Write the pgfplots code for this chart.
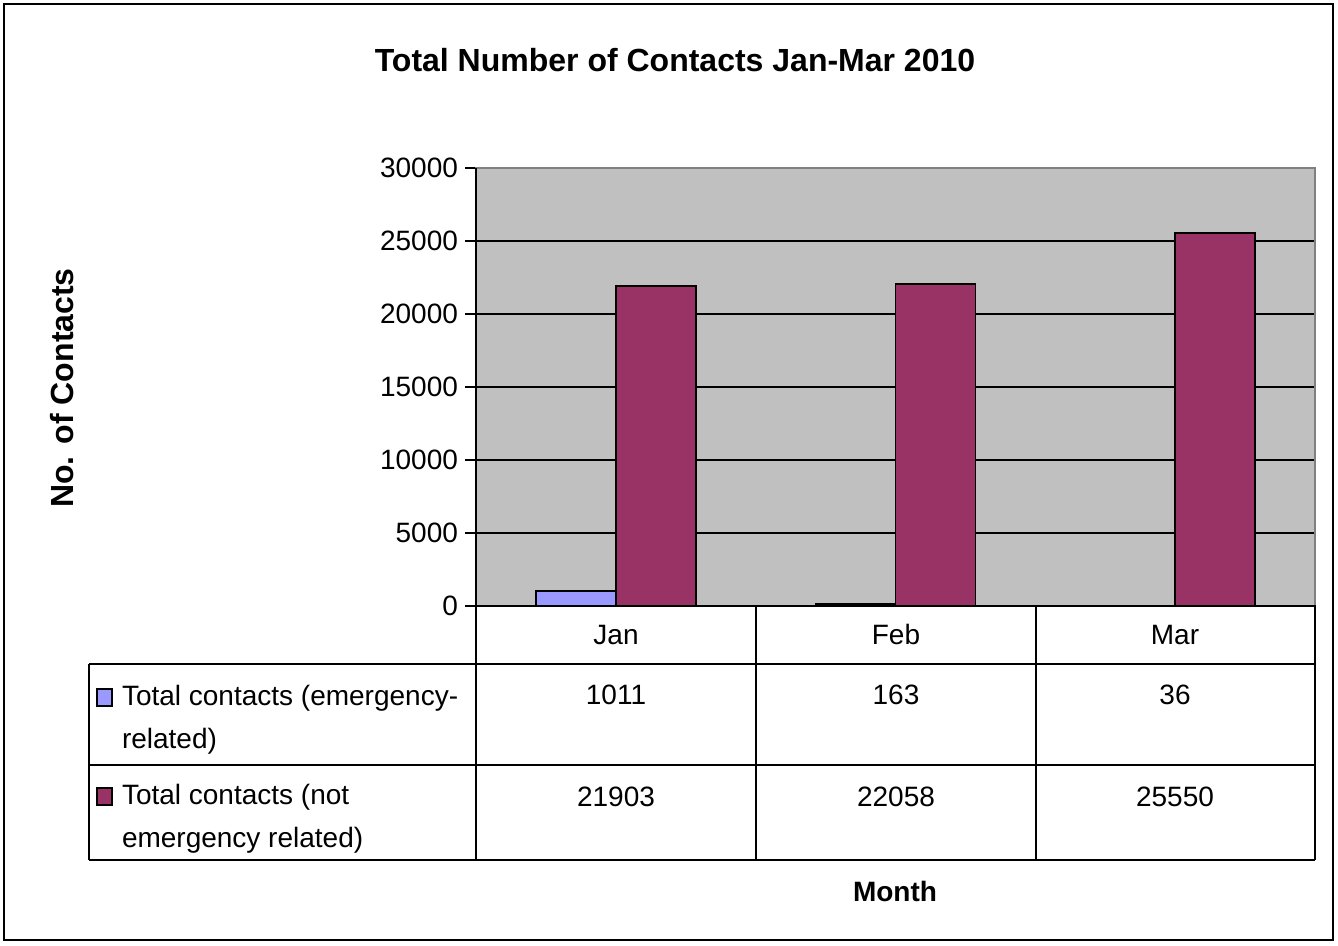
\documentclass[border=0pt]{standalone}
\usepackage{pgfplots}
\pgfplotsset{compat=1.18}
\usepackage{fontspec}
\setmainfont{Liberation Sans}

\definecolor{emerg}{HTML}{9999FF}
\definecolor{nonemerg}{HTML}{993366}
\definecolor{plotbg}{HTML}{C0C0C0}

\newcommand{\cellfont}{\fontsize{14}{21.5}\selectfont}

\begin{document}
\begin{tikzpicture}
\useasboundingbox (0,0) rectangle (669pt,473pt);
\begin{axis}[
    at={(238pt,170pt)}, anchor=south west,
    scale only axis,
    width=419.5pt, height=219pt,
    ybar=0pt, bar width=0.2857,
    xmin=-0.5, xmax=2.5,
    ymin=0, ymax=30000,
    ytick={0,5000,10000,15000,20000,25000,30000},
    xtick=\empty,
    ytick pos=left,
    tick align=outside,
    major tick length=5.5pt,
    y tick style={black, line width=1pt},
    ymajorgrids=true,
    grid style={black, line width=1pt},
    axis background/.style={fill=plotbg},
    axis line style={draw=gray, line width=0.8pt},
    scaled y ticks=false,
    /pgf/number format/assume math mode=true,
    /pgf/number format/1000 sep={},
    yticklabel style={font=\cellfont},
]
\addplot[fill=emerg, draw=black, line width=0.9pt]
    coordinates {(0,1011) (1,163) (2,36)};
\addplot[fill=nonemerg, draw=black, line width=0.9pt]
    coordinates {(0,21903) (1,22058) (2,25550)};
\end{axis}

% pixel coordinates of the reference, y pointing down
\begin{scope}[x=0.5pt, y=-0.5pt, yshift=473pt, line width=1pt]
\draw (4,4) rectangle (1333,940);
\draw (476,168) -- (476,860);
\draw (476,606) -- (1315,606) -- (1315,860);
\draw (756,606) -- (756,860);
\draw (1036,606) -- (1036,860);
\draw (89,664) -- (1315,664);
\draw (89,765) -- (1315,765);
\draw (89,860) -- (1315,860);
\draw (89,664) -- (89,860);

\node[font=\cellfont] at (616,635) {Jan};
\node[font=\cellfont] at (896,635) {Feb};
\node[font=\cellfont] at (1175,635) {Mar};

\node[font=\cellfont] at (616,695) {1011};
\node[font=\cellfont] at (896,695) {163};
\node[font=\cellfont] at (1175,695) {36};
\node[font=\cellfont] at (616,797) {21903};
\node[font=\cellfont] at (896,797) {22058};
\node[font=\cellfont] at (1175,797) {25550};

\draw[fill=emerg, line width=0.8pt] (97,689) rectangle (112,706);
\draw[fill=nonemerg, line width=0.8pt] (97,788) rectangle (112,805);
\node[font=\cellfont, anchor=west, inner sep=0pt] at (121,698) {Total contacts (emergency-};
\node[font=\cellfont, anchor=west, inner sep=0pt] at (121,741) {related)};
\node[font=\cellfont, anchor=west, inner sep=0pt] at (121,797) {Total contacts (not};
\node[font=\cellfont, anchor=west, inner sep=0pt] at (121,840) {emergency related)};

\node[font=\fontsize{16}{19}\selectfont\bfseries] at (675,60) {Total Number of Contacts Jan-Mar 2010};
\node[font=\fontsize{16}{19}\selectfont\bfseries, rotate=90] at (62,388) {No. of Contacts};
\node[font=\fontsize{14}{17}\selectfont\bfseries] at (895,891) {Month};
\end{scope}
\end{tikzpicture}
\end{document}
